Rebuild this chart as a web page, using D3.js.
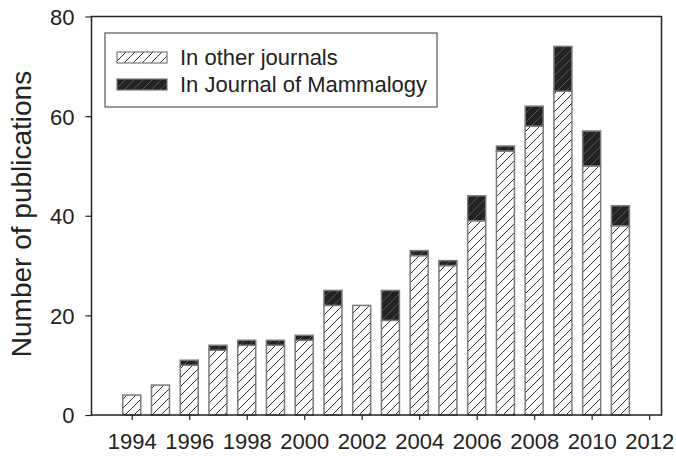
<!DOCTYPE html>
<html>
<head>
<meta charset="utf-8">
<script src="https://cdn.jsdelivr.net/npm/d3@7"></script>
<style>
  body { margin: 0; background: #fff; }
  text { font-family: "Liberation Sans", Arial, sans-serif; fill: #222; }
</style>
</head>
<body>
<div id="chart"></div>
<script>
var width = 676;
var height = 456;
var margin = {top: 16.5, left: 91.5, right: 14.5, bottom: 41};

var years = [1994, 1995, 1996, 1997, 1998, 1999, 2000, 2001, 2002,
             2003, 2004, 2005, 2006, 2007, 2008, 2009, 2010, 2011];
var otherJournals = [4, 6, 10, 13, 14, 14, 15, 22, 22,
                     19, 32, 30, 39, 53, 58, 65, 50, 38];
var journalMammalogy = [0, 0, 1, 1, 1, 1, 1, 3, 0,
                        6, 1, 1, 5, 1, 4, 9, 7, 4];
var yTicks = [0, 20, 40, 60, 80];
var xTicks = [1994, 1996, 1998, 2000, 2002, 2004, 2006, 2008, 2010, 2012];
var seriesNames = ["In other journals", "In Journal of Mammalogy"];

var svg = d3.select("#chart")
  .append("svg")
  .attr("width", width)
  .attr("height", height);

// hatch patterns
var defs = svg.append("defs");
function hatch(id, bg, line) {
  var p = defs.append("pattern")
    .attr("id", id)
    .attr("patternUnits", "userSpaceOnUse")
    .attr("width", 9)
    .attr("height", 9);
  p.append("rect").attr("width", 9).attr("height", 9).attr("fill", bg);
  p.append("path")
    .attr("d", "M-2,11 L11,-2 M-2,2 L2,-2 M7,11 L11,7")
    .attr("stroke", line)
    .attr("stroke-width", 1);
}
hatch("hatchLight", "#fff", "#333");
hatch("hatchDark", "#222", "#555");

var xScale = d3.scaleLinear()
  .domain([1992.6, 2012.43])
  .range([margin.left, width - margin.right]);
var yScale = d3.scaleLinear()
  .domain([0, 80])
  .range([height - margin.bottom, margin.top]);

var barW = 18;

// stacked bars
var rows = years.map(function(y, i) {
  return {year: y, other: otherJournals[i], jm: journalMammalogy[i]};
});

svg.selectAll("rect.other")
  .data(rows)
  .enter()
  .append("rect")
    .attr("class", "other")
    .attr("x", function(d) { return xScale(d.year) - barW / 2; })
    .attr("y", function(d) { return yScale(d.other); })
    .attr("width", barW)
    .attr("height", function(d) { return yScale(0) - yScale(d.other); })
    .attr("fill", "url(#hatchLight)")
    .attr("stroke", "#7a7a7a")
    .attr("stroke-width", 1.5);

svg.selectAll("rect.jm")
  .data(rows.filter(function(d) { return d.jm > 0; }))
  .enter()
  .append("rect")
    .attr("class", "jm")
    .attr("x", function(d) { return xScale(d.year) - barW / 2; })
    .attr("y", function(d) { return yScale(d.other + d.jm); })
    .attr("width", barW)
    .attr("height", function(d) { return yScale(d.other) - yScale(d.other + d.jm); })
    .attr("fill", "url(#hatchDark)")
    .attr("stroke", "#7a7a7a")
    .attr("stroke-width", 1.5);

// frame
svg.append("rect")
  .attr("x", margin.left)
  .attr("y", margin.top)
  .attr("width", width - margin.left - margin.right)
  .attr("height", height - margin.top - margin.bottom)
  .attr("fill", "none")
  .attr("stroke", "#222")
  .attr("stroke-width", 1.5);

var yAxis = svg.append("g")
  .attr("transform", `translate(${margin.left},0)`)
  .call(d3.axisLeft(yScale).tickValues(yTicks).tickSize(6).tickPadding(11));
var xAxis = svg.append("g")
  .attr("transform", `translate(0,${height - margin.bottom})`)
  .call(d3.axisBottom(xScale).tickValues(xTicks).tickFormat(d3.format("d"))
        .tickSize(5).tickPadding(13));

[xAxis, yAxis].forEach(function(a) {
  a.select(".domain").remove();
  a.selectAll(".tick line").attr("stroke", "#222").attr("stroke-width", 1.2);
  a.selectAll("text")
    .style("font-family", "'Liberation Sans', Arial, sans-serif")
    .style("font-size", "22px")
    .attr("fill", "#222");
});
yAxis.selectAll("text").attr("dy", "0.36em");
xAxis.selectAll("text").attr("dy", "0.71em");

var yLabel = svg.append("text")
  .attr("transform", "rotate(-90)")
  .attr("x", -214)
  .attr("y", 31)
  .attr("text-anchor", "middle")
  .style("font-size", "28px")
  .text("Number of publications");

// legend
var legend = svg.append("g");
legend.append("rect")
  .attr("x", 105)
  .attr("y", 33)
  .attr("width", 332)
  .attr("height", 74)
  .attr("fill", "#fff")
  .attr("stroke", "#555")
  .attr("stroke-width", 1.2);

var legendItems = legend.selectAll("g.item")
  .data(seriesNames)
  .enter()
  .append("g")
    .attr("class", "item")
    .attr("transform", function(d, i) { return `translate(117,${52 + i * 27})`; });
legendItems.append("rect")
  .attr("width", 50)
  .attr("height", 11)
  .attr("fill", function(d, i) { return i === 0 ? "url(#hatchLight)" : "url(#hatchDark)"; })
  .attr("stroke", "#7a7a7a")
  .attr("stroke-width", 1.2);
legendItems.append("text")
  .attr("x", 63)
  .attr("y", 13)
  .style("font-size", "22px")
  .text(function(d) { return d; });
</script>
</body>
</html>
